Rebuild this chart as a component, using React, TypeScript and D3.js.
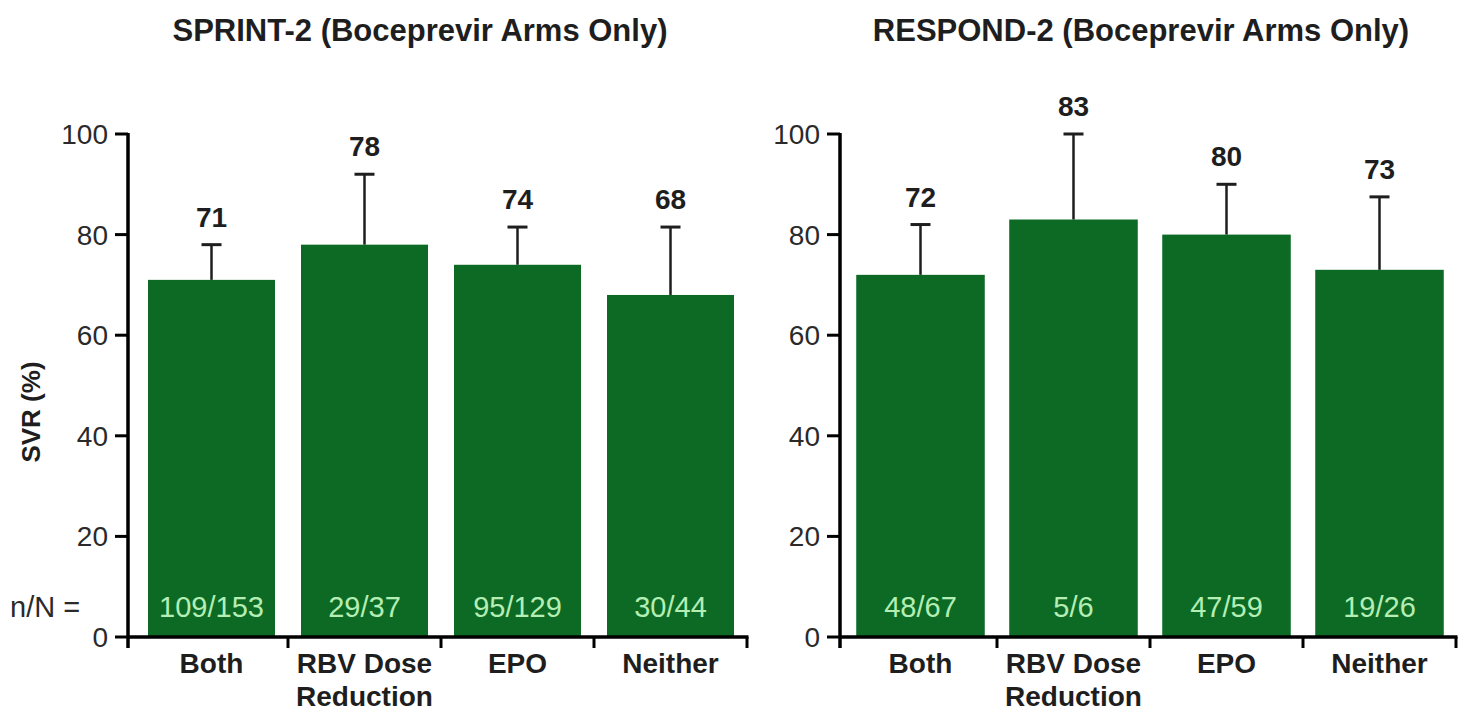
import React from "react";
import * as d3 from "d3";

// Category labels (two lines each where needed)
const categories = ["Both", "RBV Dose\nReduction", "EPO", "Neither"];

// SPRINT-2 panel
const sprintSvr = [71, 78, 74, 68];
const sprintUpper = [78, 92, 81.5, 81.5];
const sprintCounts = ["109/153", "29/37", "95/129", "30/44"];

// RESPOND-2 panel
const respondSvr = [72, 83, 80, 73];
const respondUpper = [82, 100, 90, 87.5];
const respondCounts = ["48/67", "5/6", "47/59", "19/26"];

const yTicks = [0, 20, 40, 60, 80, 100];

const BAR_GREEN = "#0c6a24";
const COUNT_GREEN = "#b4eeb4";
const INK = "#1e1e1e";
const FONT = "'Liberation Sans', Arial, Helvetica, sans-serif";

type PanelProps = {
  title: string;
  titleX: number;
  axisX: number;
  bandStart: number;
  step: number;
  padInner: number;
  padOuter: number;
  values: number[];
  upper: number[];
  counts: string[];
  showYLabel: boolean;
};

const y = d3.scaleLinear().domain([0, 100]).range([637, 134]);

function Panel(p: PanelProps) {
  const x = d3
    .scaleBand<string>()
    .domain(categories)
    .range([p.bandStart, p.bandStart + p.step * categories.length])
    .paddingInner(p.padInner)
    .paddingOuter(p.padOuter);
  const bw = x.bandwidth();
  const y0 = y(0);
  const xEnd = p.bandStart + p.step * categories.length;
  const boundaries = categories.map((_, i) => p.bandStart + p.step * (i + 1));

  return (
    <g fontFamily={FONT}>
      <text
        x={p.titleX}
        y={41}
        textAnchor="middle"
        fontSize={31}
        fontWeight="bold"
        fill={INK}
      >
        {p.title}
      </text>

      {/* bars */}
      {categories.map((c, i) => (
        <rect
          key={"b" + i}
          x={x(c)}
          y={y(p.values[i])}
          width={bw}
          height={y0 - y(p.values[i])}
          fill={BAR_GREEN}
        />
      ))}

      {/* upper error bars */}
      {categories.map((c, i) => {
        const cx = (x(c) as number) + bw / 2;
        return (
          <g key={"e" + i} stroke={INK} strokeWidth={2.5}>
            <line x1={cx} x2={cx} y1={y(p.values[i])} y2={y(p.upper[i])} />
            <line x1={cx - 10} x2={cx + 10} y1={y(p.upper[i])} y2={y(p.upper[i])} strokeWidth={3} />
          </g>
        );
      })}

      {/* value labels above error bars */}
      {categories.map((c, i) => (
        <text
          key={"v" + i}
          x={(x(c) as number) + bw / 2}
          y={y(p.upper[i]) - 18}
          textAnchor="middle"
          fontSize={28}
          fontWeight="bold"
          fill={INK}
        >
          {p.values[i]}
        </text>
      ))}

      {/* n/N inside bars */}
      {categories.map((c, i) => (
        <text
          key={"n" + i}
          x={(x(c) as number) + bw / 2}
          y={617}
          textAnchor="middle"
          fontSize={29}
          fill={COUNT_GREEN}
        >
          {p.counts[i]}
        </text>
      ))}

      {/* y axis */}
      <line x1={p.axisX} x2={p.axisX} y1={y(100) - 1} y2={y0 + 11} stroke="#000" strokeWidth={3.5} />
      {yTicks.map((t) => (
        <g key={"t" + t}>
          <line x1={p.axisX - 13} x2={p.axisX} y1={y(t)} y2={y(t)} stroke="#000" strokeWidth={3} />
          <text
            x={p.axisX - 20}
            y={y(t) + 10}
            textAnchor="end"
            fontSize={28}
            fill="#2a2a2a"
          >
            {t}
          </text>
        </g>
      ))}

      {/* x axis */}
      <line x1={p.axisX} x2={xEnd + 1.5} y1={y0} y2={y0} stroke="#000" strokeWidth={3.5} />
      {boundaries.map((b, i) => (
        <line key={"xt" + i} x1={b} x2={b} y1={y0} y2={y0 + 11} stroke="#000" strokeWidth={3} />
      ))}
      {categories.map((c, i) => {
        const lines = c.split("\n");
        return (
          <text
            key={"c" + i}
            x={(x(c) as number) + bw / 2}
            y={673}
            textAnchor="middle"
            fontSize={28}
            fontWeight="bold"
            fill={INK}
          >
            {lines.map((l, j) => (
              <tspan key={j} x={(x(c) as number) + bw / 2} dy={j === 0 ? 0 : 33}>
                {l}
              </tspan>
            ))}
          </text>
        );
      })}

      {p.showYLabel && (
        <>
          <text
            transform={`translate(40, ${412}) rotate(-90)`}
            textAnchor="middle"
            fontSize={26}
            fontWeight="bold"
            fill={INK}
          >
            SVR (%)
          </text>
          <text x={10} y={617} fontSize={29} fill="#2a2a2a">
            n/N =
          </text>
        </>
      )}
    </g>
  );
}

export default function App() {
  return (
    <svg
      width={1458}
      height={715}
      style={{ position: "absolute", left: 0, top: 0, background: "#fff" }}
    >
      <Panel
        title="SPRINT-2 (Boceprevir Arms Only)"
        titleX={420}
        axisX={128}
        bandStart={135}
        step={153}
        padInner={0.17}
        padOuter={0.085}
        values={sprintSvr}
        upper={sprintUpper}
        counts={sprintCounts}
        showYLabel={true}
      />
      <Panel
        title="RESPOND-2 (Boceprevir Arms Only)"
        titleX={1141}
        axisX={840}
        bandStart={844}
        step={153}
        padInner={0.16}
        padOuter={0.08}
        values={respondSvr}
        upper={respondUpper}
        counts={respondCounts}
        showYLabel={false}
      />
    </svg>
  );
}
